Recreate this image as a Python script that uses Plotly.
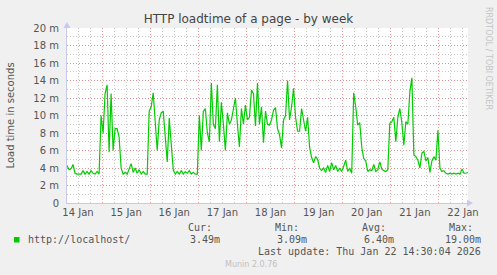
import plotly.graph_objects as go
import pandas as pd

# ---- data (load time, milliseconds), hourly readings starting 2026-01-14 06:30 ----
start_time = "2026-01-14 06:30"
load_ms = [
    4.3, 3.8, 3.9, 4.4, 3.4, 3.3, 3.3, 3.3, 3.7, 3.3, 3.6, 3.3, 3.7, 3.4, 3.3, 3.6, 3.3,
    10.0, 8.0, 12.5, 13.5, 5.8, 12.5, 6.0, 8.5, 8.5, 7.5, 4.0,
    3.3, 3.5, 3.3, 3.8, 4.5, 3.5, 4.0, 3.4, 3.8, 3.3, 3.6, 3.3, 3.3,
    10.5, 11.0, 12.6, 9.0, 6.0, 9.5, 10.3, 10.5, 7.0, 4.7, 9.7, 7.0, 3.8,
    3.3, 3.6, 3.3, 3.7, 3.3, 3.6, 3.4, 3.7, 3.3, 3.5, 3.3, 3.3,
    10.0, 6.0, 10.5, 10.8, 8.0, 7.0, 13.7, 9.0, 8.5,
    13.5, 7.0, 11.5, 9.0, 6.0, 10.3, 9.0, 9.5, 10.8, 12.0, 9.0, 6.4,
    10.8, 9.0, 11.2, 9.5, 9.8, 12.9, 12.5, 8.8, 13.7, 9.0, 11.0, 6.9, 10.5,
    9.0, 8.9, 9.5, 10.6, 10.9, 8.5, 7.8, 6.3, 9.5, 10.0, 14.0, 9.5, 11.0, 13.1,
    9.8, 8.2, 8.2, 10.8, 9.5, 8.2, 9.8, 6.4, 5.2, 4.6, 5.3,
    5.0, 4.0, 3.7, 4.0, 3.5, 4.3, 3.6, 4.6, 3.8, 4.3, 3.6, 4.0, 3.6, 4.2, 4.9,
    3.6, 4.0, 3.4,
    12.6, 11.0, 8.9, 9.2, 6.4, 5.1, 4.8,
    3.6, 3.8, 3.7, 4.4, 3.6, 3.8, 4.7, 3.9, 3.7, 3.6, 3.8,
    9.1, 9.3, 9.8, 7.0, 9.8, 10.8, 9.2, 6.6, 9.3, 9.0, 12.7, 14.3, 5.5, 5.3,
    4.9, 4.0, 5.7, 5.9, 4.8, 5.2, 3.5, 4.8, 5.3, 4.9, 8.3, 4.0, 3.6, 3.7,
    3.4, 3.3, 3.4, 3.3, 3.4, 3.3, 3.4, 3.3, 3.9, 3.4, 3.4, 3.49,
]
times = pd.date_range(start_time, periods=len(load_ms), freq="h")

x_range = ["2026-01-14 06:30", "2026-01-22 14:30"]
y_tickvals = [0, 2, 4, 6, 8, 10, 12, 14, 16, 18, 20]
y_ticktext = ["0", "2 m", "4 m", "6 m", "8 m", "10 m", "12 m", "14 m", "16 m", "18 m", "20 m"]

title = "HTTP loadtime of a page - by week"
y_label = "Load time in seconds"
series_name = "http://localhost/"
stats_labels = ["Cur:", "Min:", "Avg:", "Max:"]
stats_values = ["3.49m", "3.09m", "6.40m", "19.00m"]
last_update = "Last update: Thu Jan 22 14:30:04 2026"
munin_version = "Munin 2.0.76"
rrd_credit = "RRDTOOL / TOBI OETIKER"

# ---- figure ----
W, H = 497, 275
L, R, T, B = 67, 29, 28, 72
PW = W - L - R
PH = H - T - B

def px(xp):
    return (xp - L) / PW

def py(yp):
    return (H - B - yp) / PH

GREEN = "#00CC00"
MAJOR = "rgba(230,130,130,0.8)"
MINOR = "rgba(185,185,185,0.8)"
DOTS = "1px,2px"
AXISC = "#C8C8F0"
TXT = "#555555"
MONO = "DejaVu Sans Mono"

fig = go.Figure()
fig.add_trace(go.Scatter(x=times, y=load_ms, mode="lines",
                         line=dict(color=GREEN, width=1.2), hoverinfo="skip",
                         showlegend=False))

fig.update_layout(
    width=W, height=H,
    margin=dict(l=L, r=R, t=T, b=B),
    paper_bgcolor="#F0F0F0", plot_bgcolor="#FFFFFF",
    font=dict(family="DejaVu Sans", size=10, color=TXT),
    title=dict(text=title, x=0.5, xanchor="center", xref="container",
               y=1 - 19 / H, yanchor="middle", yref="container",
               font=dict(family="DejaVu Sans", size=12, color="#444444")),
    showlegend=False,
)

fig.update_xaxes(
    type="date", range=x_range,
    tick0="2026-01-14 00:00", dtick=86400000, tickformat="%d %b",
    ticklabelmode="period", ticks="",
    showgrid=True, gridcolor=MAJOR, griddash=DOTS, gridwidth=1,
    minor=dict(tick0="2026-01-14 00:00", dtick=6 * 3600000, showgrid=True,
               gridcolor=MINOR, griddash=DOTS, gridwidth=1, ticks=""),
    showline=True, linecolor=AXISC, linewidth=1, zeroline=False,
    tickfont=dict(family="DejaVu Sans", size=10, color=TXT),
    fixedrange=True,
)
fig.update_yaxes(
    range=[0, 20], tickvals=y_tickvals, ticktext=y_ticktext,
    showgrid=True, gridcolor=MAJOR, griddash=DOTS, gridwidth=1,
    minor=dict(dtick=1, showgrid=True, gridcolor=MINOR, griddash=DOTS,
               gridwidth=1, ticks=""),
    showline=True, linecolor=AXISC, linewidth=1, zeroline=False,
    ticks="", ticklabelstandoff=5,
    tickfont=dict(family="DejaVu Sans", size=10, color=TXT),
    fixedrange=True,
)

# axis arrows
fig.add_shape(type="path", xref="paper", yref="paper", layer="above",
              path=f"M {px(467)} {py(199.5)} L {px(473)} {py(203)} L {px(467)} {py(206.5)} Z",
              fillcolor=AXISC, line=dict(color=AXISC, width=0))
fig.add_shape(type="path", xref="paper", yref="paper", layer="above",
              path=f"M {px(63.5)} {py(28)} L {px(67)} {py(22)} L {px(70.5)} {py(28)} Z",
              fillcolor=AXISC, line=dict(color=AXISC, width=0))

# legend square
fig.add_shape(type="rect", xref="paper", yref="paper",
              x0=px(14), x1=px(19.5), y0=py(242.5), y1=py(237),
              fillcolor=GREEN, line=dict(width=0))

def ann(text, x, y, anchor="left", size=10, color=TXT, family=MONO, angle=0, yanchor="middle"):
    fig.add_annotation(text=text, x=px(x), y=py(y), xref="paper", yref="paper",
                       xanchor=anchor, yanchor=yanchor, showarrow=False,
                       textangle=angle, font=dict(family=family, size=size, color=color))

ann(y_label, 10, 115.5, anchor="center", family="DejaVu Sans", size=10, angle=-90)
ann(rrd_credit, 488.5, 5, anchor="center", family="DejaVu Sans", size=8,
    color="#C4C4C4", angle=90, yanchor="top")
ann(series_name, 26, 239.5)

label_x = [185.5, 272.5, 360, 446.5]
value_right = [221.5, 308.5, 396, 483]
for lab, lx, val, vr in zip(stats_labels, label_x, stats_values, value_right):
    ann(lab, lx, 227.5)
    ann(val, vr, 239.5, anchor="right")

ann(last_update, 483, 251.5, anchor="right")
ann(munin_version, 223, 264.5, family="DejaVu Sans", size=8, color="#C0C0C0")

fig.write_html("out.html")
